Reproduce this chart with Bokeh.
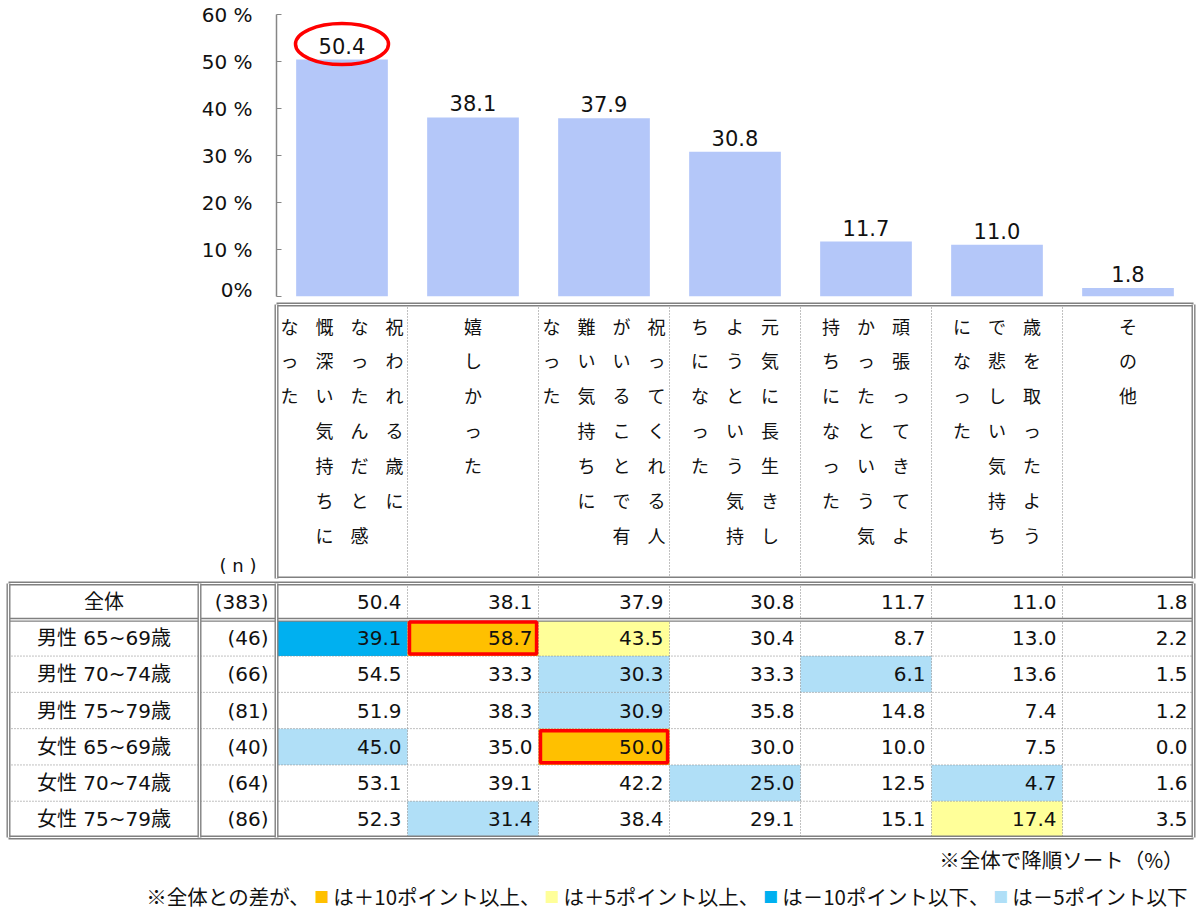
from bokeh.plotting import figure
from bokeh.layouts import column
from bokeh.models import Range1d, FixedTicker, ColumnDataSource
from bokeh.core.properties import value
from bokeh.embed import file_html
from bokeh.resources import INLINE

# ---------------- data ----------------
categories = [
    "祝われる歳になったんだと感慨深い気持ちになった",
    "嬉しかった",
    "祝ってくれる人がいることで有難い気持ちになった",
    "元気に長生きしようという気持ちになった",
    "頑張ってきてよかったという気持ちになった",
    "歳を取ったようで悲しい気持ちになった",
    "その他",
]
# vertical label columns (right to left), as printed
category_columns = [
    ["祝われる歳に", "なったんだと感", "慨深い気持ちに", "なった"],
    ["嬉しかった"],
    ["祝ってくれる人", "がいることで有", "難い気持ちに", "なった"],
    ["元気に長生きし", "ようという気持", "ちになった"],
    ["頑張ってきてよ", "かったという気", "持ちになった"],
    ["歳を取ったよう", "で悲しい気持ち", "になった"],
    ["その他"],
]
overall_pct = [50.4, 38.1, 37.9, 30.8, 11.7, 11.0, 1.8]

row_labels = ["全体", "男性 65~69歳", "男性 70~74歳", "男性 75~79歳",
              "女性 65~69歳", "女性 70~74歳", "女性 75~79歳"]
row_n = [383, 46, 66, 81, 40, 64, 86]
table_values = [
    [50.4, 38.1, 37.9, 30.8, 11.7, 11.0, 1.8],
    [39.1, 58.7, 43.5, 30.4, 8.7, 13.0, 2.2],
    [54.5, 33.3, 30.3, 33.3, 6.1, 13.6, 1.5],
    [51.9, 38.3, 30.9, 35.8, 14.8, 7.4, 1.2],
    [45.0, 35.0, 50.0, 30.0, 10.0, 7.5, 0.0],
    [53.1, 39.1, 42.2, 25.0, 12.5, 4.7, 1.6],
    [52.3, 31.4, 38.4, 29.1, 15.1, 17.4, 3.5],
]
# O: +10pt or more, Y: +5pt or more, B: -10pt or less, b: -5pt or less
diff_class = [
    ".......",
    "BOY....",
    "..b.b..",
    "..b....",
    "b.O....",
    "...b.b.",
    ".b...Y.",
]
y_ticks = [0, 10, 20, 30, 40, 50, 60]
y_tick_labels = ["0%", "10 %", "20 %", "30 %", "40 %", "50 %", "60 %"]
n_header = "( n )"
note_sort = "※全体で降順ソート（%）"
note_diff_parts = ["※全体との差が、", "は＋10ポイント以上、", "は＋5ポイント以上、",
                   "は－10ポイント以下、", "は－5ポイント以下"]
note_diff_keys = ["O", "Y", "B", "b"]

# ---------------- styles ----------------
BAR = "#B4C7F9"
GREY = "#808080"
CLASS_COLOR = {"O": "#FFC000", "Y": "#FFFF99", "B": "#00B0F0", "b": "#B0DFF7"}
JP = value("Noto Sans CJK JP")
NUM = value("DejaVu Sans")
MIX = value("DejaVu Sans, Noto Sans CJK JP")

W = 1196
PX = 131.0
XL = -2.107
XR = XL + W / PX
TL, NL, DL, TR = -2.046, -0.588, 0.0, 7.0
ncat = len(categories)
xs = [i + 0.5 for i in range(ncat)]


def clean(p):
    p.outline_line_color = None
    p.background_fill_color = "white"
    p.border_fill_color = "white"
    return p


def double_h(p, y, x0, x1):
    p.segment(x0=[x0], y0=[y], x1=[x1], y1=[y], line_color=GREY, line_width=4)
    p.segment(x0=[x0], y0=[y], x1=[x1], y1=[y], line_color="white", line_width=1.2)


def double_v(p, x, y0, y1):
    p.segment(x0=[x], y0=[y0], x1=[x], y1=[y1], line_color=GREY, line_width=4)
    p.segment(x0=[x], y0=[y0], x1=[x], y1=[y1], line_color="white", line_width=1.2)


# ---------------- A: bar chart ----------------
A = figure(width=W, height=301, x_range=Range1d(0, ncat), y_range=Range1d(0, 60),
           x_axis_type=None, output_backend="svg", toolbar_location=None, frame_align=False,
           min_border_left=276, min_border_right=W - 276 - 917, min_border_top=14,
           min_border_bottom=5)
clean(A)
A.ygrid.visible = False
A.xgrid.visible = False
A.vbar(x=xs, top=overall_pct, width=0.70, fill_color=BAR, line_color=None)
A.text(x=xs, y=overall_pct, text=[f"{v:.1f}" for v in overall_pct],
       text_align="center", text_baseline="bottom", y_offset=-6,
       text_font=NUM, text_font_size="21px", text_color="#111111")
A.ellipse(x=[xs[0]], y=[overall_pct[0] + 3.3], width=0.71, height=41, height_units="screen",
          fill_color=None, line_color="#FF0000", line_width=3.5)
ax = A.yaxis[0]
ax.ticker = FixedTicker(ticks=y_ticks)
ax.major_label_overrides = {t: l for t, l in zip(y_ticks, y_tick_labels)}
ax.axis_line_color = "#868686"
ax.axis_line_width = 1.5
ax.major_tick_line_color = "#868686"
ax.major_tick_in = 5
ax.major_tick_out = 0
ax.minor_tick_line_color = None
ax.major_label_standoff = 24
ax.major_label_text_font = "DejaVu Sans"
ax.major_label_text_font_size = "20px"
ax.major_label_text_color = "#111111"

# ---------------- B: vertical category labels ----------------
B = figure(width=W, height=278, x_range=Range1d(XL, XR), y_range=Range1d(-0.00365, 1.01095),
           x_axis_type=None, y_axis_type=None, output_backend="svg", toolbar_location=None,
           min_border=0, min_border_left=0, min_border_right=0, min_border_top=0,
           min_border_bottom=0, frame_align=False)
clean(B)
B.grid.visible = False
B.segment(x0=list(range(1, ncat)), y0=0, x1=list(range(1, ncat)), y1=1,
          line_color=GREY, line_dash="1 2", line_width=1)
for y in (0, 1):
    double_h(B, y, 0, ncat)
for x in (0, ncat):
    double_v(B, x, 0, 1)
vx, vxo, vt = [], [], []
for i, cols in enumerate(category_columns):
    n = len(cols)
    for j, col in enumerate(cols):
        vx.append(xs[i])
        vxo.append(((n - 1) / 2 - j) * 35)
        vt.append("\n".join(col))
B.text(x="x", y=1, x_offset="xo", y_offset=8, text="t",
       source=ColumnDataSource(dict(x=vx, xo=vxo, t=vt)),
       text_align="center", text_baseline="top", text_line_height=1.346,
       text_font=JP, text_font_size="18px", text_color="#111111")
B.text(x=[(NL + DL) / 2], y=[0.047], text=[n_header], text_align="center",
       text_baseline="middle", text_font=NUM, text_font_size="18px", text_color="#111111")

# ---------------- C: table + notes ----------------
nrow = len(row_labels)
C_H = 335
C = figure(width=W, height=C_H, x_range=Range1d(XL, XR),
           y_range=Range1d(-0.11 + C_H / 36.29, -0.11),
           x_axis_type=None, y_axis_type=None, output_backend="svg", toolbar_location=None,
           min_border=0, min_border_left=0, min_border_right=0, min_border_top=0,
           min_border_bottom=0, frame_align=False)
clean(C)
C.grid.visible = False
fl, fr, ft, fb, fc = [], [], [], [], []
rl, rr, rt, rb = [], [], [], []
for r in range(nrow):
    for c in range(ncat):
        k = diff_class[r][c]
        if k in CLASS_COLOR:
            fl.append(c); fr.append(c + 1); ft.append(r); fb.append(r + 1)
            fc.append(CLASS_COLOR[k])
            if k == "O":
                rl.append(c + 0.015); rr.append(c + 1 - 0.015)
                rt.append(r + 0.06); rb.append(r + 1 - 0.06)
C.quad(left=fl, right=fr, top=ft, bottom=fb, fill_color=fc, line_color=None)
C.segment(x0=TL, y0=list(range(2, nrow)), x1=TR, y1=list(range(2, nrow)),
          line_color=GREY, line_dash="1 2", line_width=1)
C.segment(x0=list(range(1, ncat)), y0=0, x1=list(range(1, ncat)), y1=nrow,
          line_color=GREY, line_dash="1 2", line_width=1)
for y in (0, 1, nrow):
    double_h(C, y, TL, TR)
for x in (TL, NL, DL, TR):
    double_v(C, x, 0, nrow)
C.quad(left=rl, right=rr, top=rt, bottom=rb, fill_color=None,
       line_color="#FF0000", line_width=3.5)
ry = [r + 0.5 for r in range(nrow)]
C.text(x=(TL + NL) / 2, y=ry, text=row_labels, text_align="center", text_baseline="middle",
       text_font=MIX, text_font_size="20px", text_color="#111111")
C.text(x=DL, y=ry, x_offset=-8, text=[f"({n})" for n in row_n], text_align="right",
       text_baseline="middle", text_font=NUM, text_font_size="20px", text_color="#111111")
cx, cy, ct = [], [], []
for r in range(nrow):
    for c in range(ncat):
        cx.append(c + 1); cy.append(r + 0.5); ct.append(f"{table_values[r][c]:.1f}")
C.text(x=cx, y=cy, x_offset=-6, text=ct, text_align="right", text_baseline="middle",
       text_font=NUM, text_font_size="20px", text_color="#111111")

# notes
C.text(x=[TR], y=[7.58], x_offset=-10, text=[note_sort], text_align="right",
       text_baseline="middle", text_font=JP, text_font_size="20.5px", text_color="#111111")

FS, SQ, PAD = 20.5, 15, 4


def tw(s):
    return sum(0.55 * FS if ch.isascii() else FS for ch in s)


items = [(note_diff_parts[0], None)]
for k, part in zip(note_diff_keys, note_diff_parts[1:]):
    items.append(("■", k))
    items.append((part, None))
total = sum(tw(t) if k is None else SQ + 2 * PAD for t, k in items)
x_start_px = 1187 - total          # page px
x_start = XL + x_start_px / PX
off = 0.0
tx, to, tt, sx, so, st, sc = [], [], [], [], [], [], []
for t, k in items:
    if k is None:
        tx.append(x_start); to.append(off); tt.append(t)
        off += tw(t)
    else:
        sx.append(x_start); so.append(off + PAD); st.append(t); sc.append(CLASS_COLOR[k])
        off += SQ + 2 * PAD
C.text(x=tx, y=8.62, x_offset=to, text=tt, text_align="left", text_baseline="middle",
       text_font=JP, text_font_size=f"{FS}px", text_color="#111111")
C.text(x=sx, y=8.62, x_offset=so, text=st, text_align="left", text_baseline="middle",
       text_font=JP, text_font_size=f"{SQ}px", text_color=sc)

layout = column(A, B, C, spacing=0)
open("out.html", "w").write(file_html(layout, INLINE))
